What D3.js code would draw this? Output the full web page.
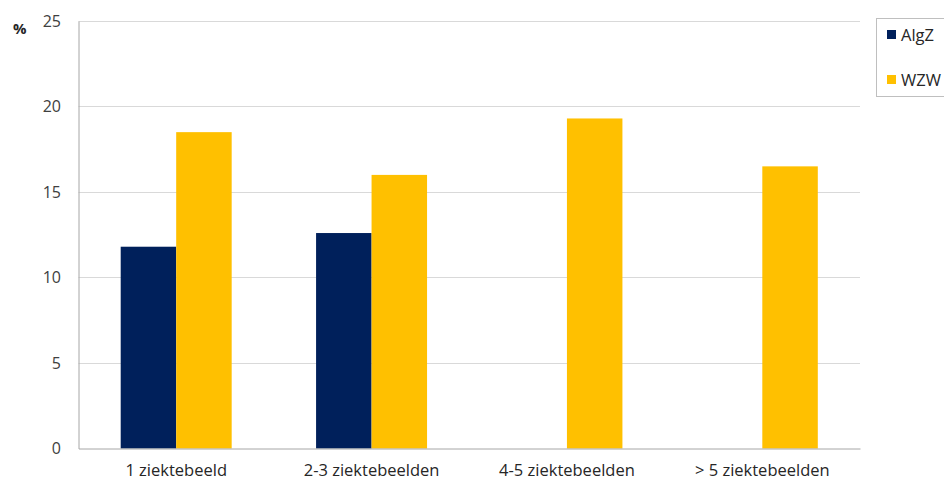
<!DOCTYPE html>
<html>
<head>
<meta charset="utf-8">
<script src="https://cdn.jsdelivr.net/npm/d3@7/dist/d3.min.js"></script>
<style>
  html, body { margin: 0; padding: 0; background: #fff; }
  svg { display: block; font-family: "Open Sans", "Liberation Sans", sans-serif; }
</style>
</head>
<body>
<svg id="chart" width="944" height="482"></svg>
<script>
// Categories, series and axis ticks
const categories = ["1 ziektebeeld", "2-3 ziektebeelden", "4-5 ziektebeelden", "> 5 ziektebeelden"];
const seriesNames = ["AlgZ", "WZW"];
const algzValues = [11.8, 12.6, null, null];
const wzwValues = [18.5, 16.0, 19.3, 16.5];
const yTicks = [0, 5, 10, 15, 20, 25];
const seriesColors = ["#00205b", "#ffc000"];

const svg = d3.select("#chart");
const plot = { left: 78.5, right: 860, top: 21, bottom: 448.5 };

const x = d3.scaleBand().domain(categories).range([plot.left, plot.right]).padding(0);
const xs = d3.scaleBand().domain(seriesNames)
  .range([x.bandwidth() * 0.216, x.bandwidth() * 0.784]).padding(0);
const y = d3.scaleLinear().domain([0, 25]).range([plot.bottom, plot.top]);

// Horizontal gridlines
svg.append("g")
  .selectAll("line")
  .data(yTicks.filter(t => t > 0))
  .join("line")
  .attr("x1", plot.left).attr("x2", plot.right)
  .attr("y1", d => Math.round(y(d)) + 0.5).attr("y2", d => Math.round(y(d)) + 0.5)
  .attr("stroke", "#d9d9d9").attr("stroke-width", 1);

// Bars
const rows = categories.map((c, i) => ({ cat: c, vals: [algzValues[i], wzwValues[i]] }));
const groups = svg.append("g").selectAll("g")
  .data(rows).join("g")
  .attr("transform", d => `translate(${x(d.cat)},0)`);
groups.selectAll("rect")
  .data(d => d.vals.map((v, j) => ({ name: seriesNames[j], v, j })).filter(e => e.v != null))
  .join("rect")
  .attr("x", d => xs(d.name))
  .attr("width", xs.bandwidth())
  .attr("y", d => y(d.v))
  .attr("height", d => y(0) - y(d.v))
  .attr("fill", d => seriesColors[d.j]);

// Y axis
const yAxis = svg.append("g")
  .attr("transform", `translate(${plot.left},0)`)
  .call(d3.axisLeft(y).tickValues(yTicks).tickSize(0).tickPadding(17.5));
yAxis.select(".domain").attr("stroke", "#a6a6a6");
yAxis.selectAll("text")
  .attr("fill", "#404040").style("font-size", "16px").style("font-family", "Open Sans, sans-serif");

// X axis
const xAxis = svg.append("g")
  .attr("transform", `translate(0,${plot.bottom})`)
  .call(d3.axisBottom(x).tickSize(0).tickPadding(16));
xAxis.select(".domain").attr("stroke", "#a6a6a6");
xAxis.selectAll("text")
  .attr("fill", "#262626").style("font-size", "16.5px").style("font-family", "Open Sans, sans-serif");

// Unit label
svg.append("text")
  .attr("x", 13).attr("y", 34)
  .attr("font-weight", "bold").attr("font-size", 15)
  .attr("fill", "#262626")
  .text("%");

// Legend
const legend = svg.append("g");
legend.append("rect")
  .attr("x", 876.5).attr("y", 18.5).attr("width", 80).attr("height", 78)
  .attr("fill", "#fff").attr("stroke", "#bfbfbf");
seriesNames.forEach((name, i) => {
  const yy = 30 + i * 45;
  legend.append("rect")
    .attr("x", 887).attr("y", yy).attr("width", 9).attr("height", 9)
    .attr("fill", seriesColors[i]);
  legend.append("text")
    .attr("x", 901).attr("y", yy + 11)
    .attr("font-size", 16.5).attr("fill", "#262626")
    .text(name);
});
</script>
</body>
</html>
